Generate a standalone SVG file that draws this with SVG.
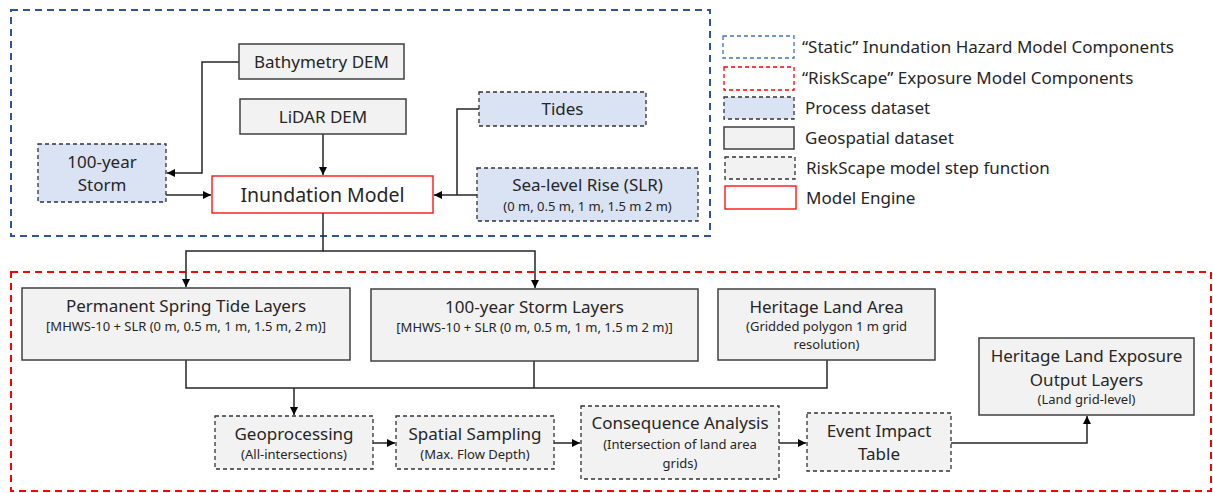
<svg xmlns="http://www.w3.org/2000/svg" width="1213" height="493" viewBox="0 0 1213 493">
<style>
text{font-family:"Noto Sans","Open Sans",sans-serif;fill:#262626;text-anchor:middle}
.t{font-size:17px}
.s{font-size:13px}
.big{font-size:19.5px}
.lg{font-size:17px;text-anchor:start}
.geo{fill:#F2F2F2;stroke:#404040;stroke-width:1.5}
.proc{fill:#DAE3F3;stroke:#333;stroke-width:1.3;stroke-dasharray:4 3}
.step{fill:#F2F2F2;stroke:#333;stroke-width:1.3;stroke-dasharray:4 3}
.eng{fill:#fff;stroke:#FF0000;stroke-width:1.3}
.grpB{fill:none;stroke:#2F5597;stroke-width:2;stroke-dasharray:7 5}
.grpR{fill:none;stroke:#FF0000;stroke-width:2;stroke-dasharray:7 5}
.lgB{fill:none;stroke:#4472C4;stroke-width:1.3;stroke-dasharray:4 3}
.lgR{fill:none;stroke:#FF0000;stroke-width:1.3;stroke-dasharray:4 3}
.c{fill:none;stroke:#262626;stroke-width:1.5}
</style>
<defs>
<marker id="ah" viewBox="0 0 10 10" refX="10" refY="5" markerWidth="8" markerHeight="8" markerUnits="userSpaceOnUse" orient="auto">
<path d="M0,0 L10,5 L0,10 z" fill="#000"/>
</marker>
</defs>
<rect width="1213" height="493" fill="#fff"/>
<g id="groups">
<rect class="grpB" x="11" y="10" width="699" height="226"/>
<rect class="grpR" x="11" y="272" width="1200" height="219"/>
</g>
<g id="connectors">
<path class="c" d="M239,62 H202 V173 H167" marker-end="url(#ah)"/>
<path class="c" d="M323,134 V175" marker-end="url(#ah)"/>
<path class="c" d="M166,195 H211" marker-end="url(#ah)"/>
<path class="c" d="M479,109 H457 V195"/>
<path class="c" d="M477,195 H434" marker-end="url(#ah)"/>
<path class="c" d="M323,213 V251 H186 V287" marker-end="url(#ah)"/>
<path class="c" d="M323,251 H535 V288" marker-end="url(#ah)"/>
<path class="c" d="M186,360 V388 H827 V360"/>
<path class="c" d="M534,361 V388"/>
<path class="c" d="M294,388 V415" marker-end="url(#ah)"/>
<path class="c" d="M373,443 H395" marker-end="url(#ah)"/>
<path class="c" d="M554,443 H580" marker-end="url(#ah)"/>
<path class="c" d="M779,443 H806" marker-end="url(#ah)"/>
<path class="c" d="M951,443 H1087 V416" marker-end="url(#ah)"/>
</g>
<g id="bathymetry"><rect class="geo" x="239" y="44" width="165" height="35"/><text class="t" x="321.5" y="67.5">Bathymetry DEM</text></g>
<g id="lidar"><rect class="geo" x="240" y="99" width="166" height="35"/><text class="t" x="323" y="122.5">LiDAR DEM</text></g>
<g id="storm"><rect class="proc" x="38" y="144" width="128" height="58"/><text class="t" x="102" y="168">100-year</text><text class="t" x="102" y="191">Storm</text></g>
<g id="inundation"><rect class="eng" x="212" y="176" width="221" height="37"/><text class="big" x="322.5" y="201.5">Inundation Model</text></g>
<g id="tides"><rect class="proc" x="479" y="92" width="167" height="34"/><text class="t" x="562.5" y="115">Tides</text></g>
<g id="slr"><rect class="proc" x="477" y="168" width="221" height="53"/><text class="t" x="587.5" y="191">Sea-level Rise (SLR)</text><text class="s" x="587.5" y="211">(0 m, 0.5 m, 1 m, 1.5 m 2 m)</text></g>
<g id="permanent"><rect class="geo" x="22" y="288" width="328" height="72"/><text class="t" x="186" y="312">Permanent Spring Tide Layers</text><text class="s" x="186" y="331">[MHWS-10 + SLR (0 m, 0.5 m, 1 m, 1.5 m, 2 m)]</text></g>
<g id="stormlayers"><rect class="geo" x="371" y="289" width="327" height="72"/><text class="t" x="534.5" y="313">100-year Storm Layers</text><text class="s" x="534.5" y="332">[MHWS-10 + SLR (0 m, 0.5 m, 1 m, 1.5 m 2 m)]</text></g>
<g id="heritage"><rect class="geo" x="718" y="289" width="217" height="71"/><text class="t" x="826.5" y="313">Heritage Land Area</text><text class="s" x="826.5" y="331">(Gridded polygon 1 m grid</text><text class="s" x="826.5" y="349">resolution)</text></g>
<g id="exposure"><rect class="geo" x="979" y="338" width="215" height="77"/><text class="t" x="1086.5" y="362">Heritage Land Exposure</text><text class="t" x="1086.5" y="386">Output Layers</text><text class="s" x="1086.5" y="404">(Land grid-level)</text></g>
<g id="geoprocessing"><rect class="step" x="215" y="416" width="158" height="53"/><text class="t" x="294" y="440">Geoprocessing</text><text class="s" x="294" y="459">(All-intersections)</text></g>
<g id="sampling"><rect class="step" x="396" y="416" width="158" height="53"/><text class="t" x="475" y="440">Spatial Sampling</text><text class="s" x="475" y="459">(Max. Flow Depth)</text></g>
<g id="consequence"><rect class="step" x="581" y="406" width="198" height="73"/><text class="t" x="680" y="429">Consequence Analysis</text><text class="s" x="680" y="449">(Intersection of land area</text><text class="s" x="680" y="468">grids)</text></g>
<g id="event"><rect class="step" x="807" y="413" width="144" height="58"/><text class="t" x="879" y="437">Event Impact</text><text class="t" x="879" y="460">Table</text></g>
<g id="legend">
<rect class="lgB" x="723" y="36" width="71" height="22"/><text class="lg" x="802" y="53">“Static” Inundation Hazard Model Components</text>
<rect class="lgR" x="724" y="67" width="70" height="23"/><text class="lg" x="802" y="84">“RiskScape” Exposure Model Components</text>
<rect class="proc" x="724" y="97" width="70" height="22"/><text class="lg" x="805" y="114">Process dataset</text>
<rect class="geo" x="724" y="127" width="70" height="22"/><text class="lg" x="805" y="144">Geospatial dataset</text>
<rect class="step" x="725" y="157" width="70" height="22"/><text class="lg" x="806" y="174">RiskScape model step function</text>
<rect class="eng" x="725" y="186" width="71" height="23"/><text class="lg" x="806" y="204">Model Engine</text>
</g>
</svg>
